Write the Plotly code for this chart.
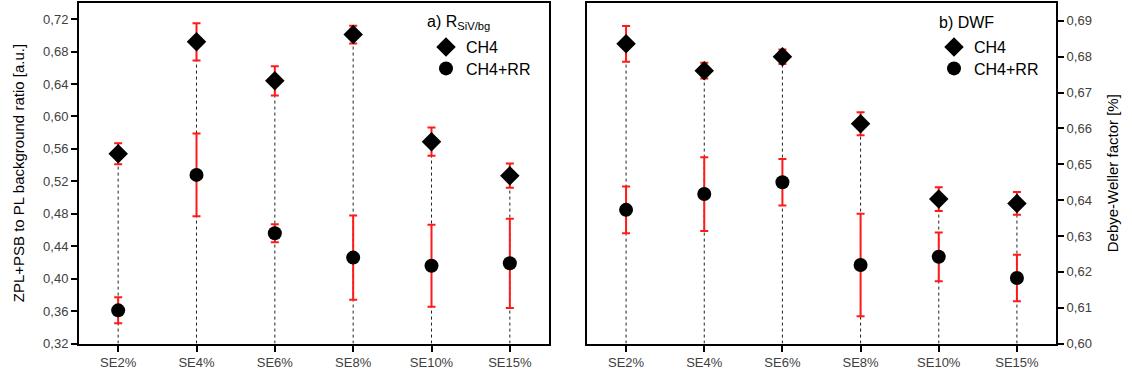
import plotly.graph_objects as go

categories = ["SE2%", "SE4%", "SE6%", "SE8%", "SE10%", "SE15%"]

# Panel a) ZPL+PSB to PL background ratio
ratio_ch4 = [0.554, 0.692, 0.644, 0.701, 0.569, 0.527]
ratio_ch4_err = [0.013, 0.023, 0.018, 0.011, 0.0175, 0.015]
ratio_rr = [0.361, 0.528, 0.456, 0.426, 0.416, 0.419]
ratio_rr_err = [0.016, 0.051, 0.011, 0.052, 0.0505, 0.055]

# Panel b) Debye-Waller factor
dwf_ch4 = [0.6836, 0.6761, 0.680, 0.6613, 0.6403, 0.6391]
dwf_ch4_err = [0.005, 0.0022, 0.002, 0.0032, 0.0033, 0.0032]
dwf_rr = [0.6373, 0.6417, 0.645, 0.6219, 0.6242, 0.6183]
dwf_rr_err = [0.0065, 0.0103, 0.0065, 0.0143, 0.0068, 0.0065]

left_range = [0.32, 0.74]
right_range = [0.60, 0.695]

W, H = 1132, 379
FONT = "Arial, Liberation Sans, sans-serif"
RED = "#ff1a1a"

fig = go.Figure()


def drop_lines(vals, base, xa, ya):
    xs, ys = [], []
    for c, v in zip(categories, vals):
        xs += [c, c, None]
        ys += [base, v, None]
    return go.Scatter(x=xs, y=ys, mode="lines", xaxis=xa, yaxis=ya,
                      line=dict(color="#222222", width=1, dash="dot"),
                      showlegend=False, hoverinfo="skip")


def series(vals, errs, name, symbol, size, xa, ya, legend):
    return go.Scatter(x=categories, y=vals, mode="markers", name=name,
                      xaxis=xa, yaxis=ya, legend=legend,
                      marker=dict(symbol=symbol, size=size, color="black"),
                      error_y=dict(type="data", array=errs, visible=True,
                                   color=RED, thickness=2, width=4))


fig.add_trace(drop_lines([max(a, b) for a, b in zip(ratio_ch4, ratio_rr)], left_range[0], "x", "y"))
fig.add_trace(drop_lines([max(a, b) for a, b in zip(dwf_ch4, dwf_rr)], right_range[0], "x2", "y2"))

fig.add_trace(series(ratio_ch4, ratio_ch4_err, "CH4", "diamond", 15, "x", "y", "legend"))
fig.add_trace(series(ratio_rr, ratio_rr_err, "CH4+RR", "circle", 14, "x", "y", "legend2"))
fig.add_trace(series(dwf_ch4, dwf_ch4_err, "CH4", "diamond", 15, "x2", "y2", "legend3"))
fig.add_trace(series(dwf_rr, dwf_rr_err, "CH4+RR", "circle", 14, "x2", "y2", "legend4"))

ydom = [28 / H, 376 / H]
common_x = dict(type="category", range=[-0.5, 5.5], showline=True, linecolor="black",
                linewidth=2, mirror=True, ticks="outside", ticklen=6, tickwidth=1.5,
                tickcolor="black", showgrid=False, zeroline=False,
                tickfont=dict(family=FONT, size=13, color="#404040"))
common_y = dict(showline=True, linecolor="black", linewidth=2, mirror=True,
                ticks="outside", ticklen=6, tickwidth=1.5, tickcolor="black",
                showgrid=False, zeroline=False, tickformat=".2f",
                tickfont=dict(family=FONT, size=13, color="#404040"), domain=ydom)

legend_common = dict(font=dict(family=FONT, size=16, color="black"),
                     bgcolor="rgba(0,0,0,0)", borderwidth=0, xanchor="left",
                     yanchor="middle", itemsizing="trace")

fig.update_layout(
    width=W, height=H,
    margin=dict(l=0, r=0, t=0, b=0),
    paper_bgcolor="white", plot_bgcolor="white",
    separators=",.",
    font=dict(family=FONT),
    xaxis=dict(domain=[79 / W, 549 / W], anchor="y", **common_x),
    yaxis=dict(range=left_range, dtick=0.04, tick0=0.32, anchor="x", side="left", **common_y),
    xaxis2=dict(domain=[587 / W, 1056 / W], anchor="y2", **common_x),
    yaxis2=dict(range=right_range, dtick=0.01, tick0=0.60, anchor="x2", side="right", **common_y),
    legend=dict(x=426 / W, y=1 - 48 / H, **legend_common),
    legend2=dict(x=426 / W, y=1 - 70 / H, **legend_common),
    legend3=dict(x=934 / W, y=1 - 48 / H, **legend_common),
    legend4=dict(x=934 / W, y=1 - 70 / H, **legend_common),
    annotations=[
        dict(text="a) R<sub>SiV/bg</sub>", x=425 / W, y=1 - 23 / H,
             xref="paper", yref="paper", showarrow=False,
             xanchor="left", yanchor="middle", font=dict(family=FONT, size=16, color="black")),
        dict(text="b) DWF", x=937 / W, y=1 - 23 / H,
             xref="paper", yref="paper", showarrow=False,
             xanchor="left", yanchor="middle", font=dict(family=FONT, size=16, color="black")),
        dict(text="ZPL+PSB to PL background ratio [a.u.]", x=18 / W, y=(379 - 177) / H,
             xref="paper", yref="paper", textangle=-90, showarrow=False,
             xanchor="center", yanchor="middle", font=dict(family=FONT, size=15, color="black")),
        dict(text="Debye-Weller factor [%]", x=1112 / W, y=(379 - 177) / H,
             xref="paper", yref="paper", textangle=-90, showarrow=False,
             xanchor="center", yanchor="middle", font=dict(family=FONT, size=15, color="black")),
    ],
)

fig.write_html("out.html")
